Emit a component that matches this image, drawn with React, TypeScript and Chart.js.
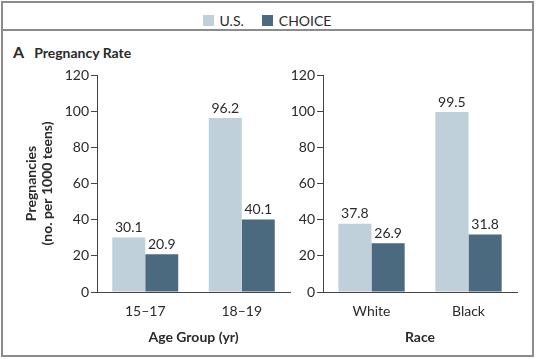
import React, { useEffect, useRef } from "react";
import { Chart, registerables } from "chart.js";

Chart.register(...registerables);

const seriesNames = ["U.S.", "CHOICE"];
const seriesColors = ["#c0d0da", "#4b6a80"];

const ageCategories = ["15–17", "18–19"];
const ageUS = [30.1, 96.2];
const ageCHOICE = [20.9, 40.1];

const raceCategories = ["White", "Black"];
const raceUS = [37.8, 99.5];
const raceCHOICE = [26.9, 31.8];

const yTicks = [0, 20, 40, 60, 80, 100, 120];

const FONT = "Lato, 'Open Sans', sans-serif";
const TEXT = "#2a2a2a";
const AXIS = "#444";

const valueLabels = {
  id: "valueLabels",
  afterDatasetsDraw(chart: any) {
    const ctx = chart.ctx;
    ctx.save();
    ctx.font = `14px ${FONT}`;
    ctx.fillStyle = TEXT;
    ctx.textAlign = "center";
    ctx.textBaseline = "bottom";
    chart.data.datasets.forEach((ds: any, i: number) => {
      const meta = chart.getDatasetMeta(i);
      meta.data.forEach((bar: any, j: number) => {
        ctx.fillText(Number(ds.data[j]).toFixed(1), bar.x, bar.y - 3);
      });
    });
    ctx.restore();
  },
};

function makeConfig(
  categories: string[],
  us: number[],
  choice: number[],
  xTitle: string,
  yTitle: string[] | null,
  yWidth: number,
  padRight: number
): any {
  return {
    type: "bar",
    data: {
      labels: categories,
      datasets: [
        { label: seriesNames[0], data: us, backgroundColor: seriesColors[0] },
        { label: seriesNames[1], data: choice, backgroundColor: seriesColors[1] },
      ],
    },
    plugins: [valueLabels],
    options: {
      responsive: false,
      animation: false,
      events: [],
      layout: { padding: { top: 15, right: padRight, bottom: 0, left: 0 } },
      plugins: { legend: { display: false }, tooltip: { enabled: false } },
      datasets: { bar: { categoryPercentage: 0.684, barPercentage: 1 } },
      scales: {
        x: {
          grid: { display: false, drawTicks: false },
          border: { display: true, color: AXIS, width: 1 },
          ticks: { color: TEXT, font: { family: FONT, size: 14 }, padding: 11 },
          title: {
            display: true,
            text: xTitle,
            color: TEXT,
            font: { family: FONT, size: 14, weight: "bold" },
            padding: { top: 0, bottom: 4 },
          },
          afterFit: (s: any) => {
            s.height = 58;
          },
        },
        y: {
          min: 0,
          max: 120,
          afterBuildTicks: (s: any) => {
            s.ticks = yTicks.map((v) => ({ value: v }));
          },
          grid: { drawOnChartArea: false, drawTicks: true, tickLength: 6, color: AXIS },
          border: { display: true, color: AXIS, width: 1 },
          ticks: { color: TEXT, font: { family: FONT, size: 14 }, padding: 2 },
          title: yTitle
            ? {
                display: true,
                text: yTitle,
                color: TEXT,
                font: { family: FONT, size: 14, weight: "bold", lineHeight: 16 / 14 },
                padding: { top: 23, bottom: 0 },
              }
            : { display: false },
          afterFit: (s: any) => {
            s.width = yWidth;
          },
        },
      },
    },
  };
}

export default function App() {
  const leftRef = useRef<HTMLCanvasElement>(null);
  const rightRef = useRef<HTMLCanvasElement>(null);

  useEffect(() => {
    const a = new Chart(
      leftRef.current!,
      makeConfig(ageCategories, ageUS, ageCHOICE, "Age Group (yr)", ["Pregnancies", "(no. per 1000 teens)"], 97, 10)
    );
    const b = new Chart(
      rightRef.current!,
      makeConfig(raceCategories, raceUS, raceCHOICE, "Race", null, 83, 13)
    );
    return () => {
      a.destroy();
      b.destroy();
    };
  }, []);

  return (
    <div
      style={{
        position: "fixed",
        left: 0,
        top: 0,
        width: 536,
        height: 359,
        background: "#fff",
        fontFamily: FONT,
        color: TEXT,
        overflow: "hidden",
      }}
    >
      <div
        style={{
          position: "absolute",
          left: 1,
          top: 1,
          width: 533,
          height: 356,
          boxSizing: "border-box",
          border: "2px solid #8c8c8c",
        }}
      />
      <div style={{ position: "absolute", left: 1, top: 29, width: 533, height: 2, background: "#8c8c8c" }} />
      <div
        style={{
          position: "absolute",
          left: 0,
          top: 11,
          width: 534,
          height: 18,
          display: "flex",
          justifyContent: "center",
          alignItems: "center",
          fontSize: 14,
        }}
      >
        <span style={{ width: 11, height: 11, background: seriesColors[0], display: "inline-block", marginRight: 6 }} />
        <span style={{ marginRight: 18 }}>{seriesNames[0]}</span>
        <span style={{ width: 11, height: 11, background: seriesColors[1], display: "inline-block", marginRight: 6 }} />
        <span>{seriesNames[1]}</span>
      </div>
      <div
        style={{
          position: "absolute",
          left: 13,
          top: 43,
          fontSize: 14,
          fontWeight: "bold",
          whiteSpace: "nowrap",
          lineHeight: "17px",
        }}
      >
        <span style={{ fontSize: 16, marginRight: 10 }}>A</span>
        Pregnancy Rate
      </div>
      <canvas ref={leftRef} width={300} height={290} style={{ position: "absolute", left: 0, top: 60 }} />
      <canvas ref={rightRef} width={290} height={290} style={{ position: "absolute", left: 240, top: 60 }} />
    </div>
  );
}
